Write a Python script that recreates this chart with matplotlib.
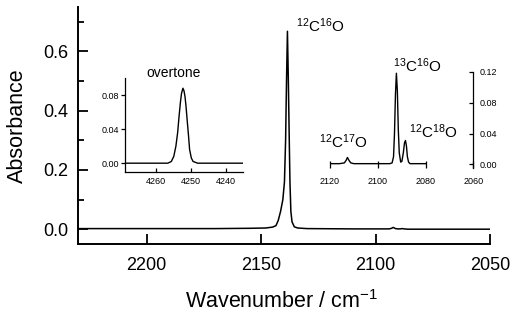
import matplotlib
matplotlib.use("Agg")
import matplotlib.pyplot as plt

plt.rcParams["font.family"] = ["Liberation Sans", "DejaVu Sans"]
plt.rcParams["mathtext.fontset"] = "custom"
plt.rcParams["mathtext.rm"] = "Liberation Sans"

# main spectrum (fundamental region)
main_wn = [2230, 2200, 2170, 2155, 2148, 2145, 2143.5, 2142.5, 2141.5, 2140.5,
           2139.8, 2139.3, 2138.9, 2138.5, 2138.1, 2137.7, 2137.4, 2137.0,
           2136.5, 2135.5, 2134, 2130, 2110, 2094, 2093, 2092.3, 2091.3,
           2090.3, 2089.2, 2088.4, 2087.5, 2086, 2070, 2050]
main_abs = [0.002, 0.002, 0.002, 0.003, 0.004, 0.007, 0.012, 0.030, 0.060, 0.100,
            0.160, 0.300, 0.500, 0.668, 0.500, 0.300, 0.160, 0.060,
            0.025, 0.008, 0.004, 0.002, 0.001, 0.001, 0.003, 0.006, 0.002,
            0.001, 0.001, 0.002, 0.001, 0.000, 0.000, 0.000]

# overtone inset
ot_wn = [4268.7, 4260, 4256.5, 4255.5, 4254.8, 4254.2, 4253.7, 4253.3, 4252.9,
         4252.6, 4252.2, 4251.9, 4251.6, 4251.3, 4251.0, 4250.6, 4250.3,
         4249.8, 4249.3, 4248, 4235]
ot_abs = [0.000, 0.000, 0.000, 0.002, 0.008, 0.020, 0.036, 0.055, 0.072,
          0.082, 0.088, 0.085, 0.078, 0.066, 0.051, 0.032, 0.016,
          0.006, 0.002, 0.000, 0.000]

# isotopologue inset
iso_wn = [2120, 2116, 2114, 2113.3, 2112.7, 2112.0, 2111.3, 2110, 2095, 2094,
          2093.4, 2093.0, 2092.6, 2092.2, 2091.8, 2091.4, 2091.0, 2090.4,
          2089.9, 2089.3, 2088.8, 2088.4, 2088.0, 2087.6, 2087.1, 2086.5, 2080]
iso_abs = [0.001, 0.001, 0.002, 0.005, 0.009, 0.005, 0.002, 0.001, 0.001, 0.002,
           0.010, 0.040, 0.090, 0.118, 0.095, 0.045, 0.015, 0.003,
           0.004, 0.015, 0.028, 0.031, 0.024, 0.010, 0.003, 0.001, 0.001]

main_xticks = [2200, 2150, 2100, 2050]
main_yticks = [0.0, 0.2, 0.4, 0.6]
ot_xticks = [4260, 4250, 4240]
ot_yticks = [0.00, 0.04, 0.08]
iso_xticks = [2120, 2100, 2080, 2060]
iso_yticks = [0.00, 0.04, 0.08, 0.12]

W, H = 520, 316
fig = plt.figure(figsize=(W / 100, H / 100), dpi=100)


def px_axes(left, top, right, bottom):
    return fig.add_axes([left / W, 1 - bottom / H, (right - left) / W, (bottom - top) / H])


# main axes
ax = px_axes(78, 7, 490, 244)
ax.plot(main_wn, main_abs, color="black", lw=1.1)
ax.set_xlim(2230, 2050)
ax.set_ylim(-0.05, 0.75)
ax.set_xticks(main_xticks)
ax.set_xticks(range(2220, 2050, 10), minor=True)
ax.set_yticks(main_yticks)
ax.set_yticks([0.1, 0.3, 0.5, 0.7], minor=True)
ax.set_yticklabels([f"{v:.1f}" for v in main_yticks])
for s in ("top", "right"):
    ax.spines[s].set_visible(False)
for s in ("left", "bottom"):
    ax.spines[s].set_linewidth(1.4)
ax.tick_params(which="both", direction="in", width=1.3, labelsize=13)
ax.tick_params(which="major", length=7)
ax.tick_params(which="minor", length=4)
ax.tick_params(axis="x", pad=9)
ax.tick_params(axis="y", pad=7)
ax.set_xlabel(r"Wavenumber / cm$^{\mathregular{-1}}$", fontsize=15.5)
ax.xaxis.label.set_va("baseline")
ax.xaxis.set_label_coords(0.494, -0.271)
ax.set_ylabel("Absorbance", fontsize=15.5)
ax.yaxis.label.set_va("center")
ax.yaxis.set_label_coords(-0.146, 0.5)

# overtone inset
ax1 = px_axes(125, 78, 243.3, 171.7)
ax1.plot(ot_wn, ot_abs, color="black", lw=1.0)
ax1.set_xlim(4268.7, 4235)
ax1.set_ylim(-0.01, 0.10)
ax1.set_xticks(ot_xticks)
ax1.set_yticks(ot_yticks)
ax1.set_yticklabels([f"{v:.2f}" for v in ot_yticks])
for s in ("top", "right"):
    ax1.spines[s].set_visible(False)
for s in ("left", "bottom"):
    ax1.spines[s].set_linewidth(0.9)
ax1.tick_params(labelsize=6.5, width=0.9, length=3)
ax1.tick_params(axis="x", direction="in", pad=4)
ax1.tick_params(axis="y", direction="out", pad=1)
ax1.patch.set_alpha(0)

# isotopologue inset
ax2 = px_axes(330, 71.7, 473.3, 168.3)
ax2.plot(iso_wn, iso_abs, color="black", lw=1.0)
ax2.set_xlim(2120, 2060)
ax2.set_ylim(-0.005, 0.12)
ax2.set_xticks(iso_xticks)
ax2.set_yticks(iso_yticks)
ax2.set_yticklabels([f"{v:.2f}" for v in iso_yticks])
for s in ("top", "left", "bottom"):
    ax2.spines[s].set_visible(False)
ax2.spines["right"].set_linewidth(0.9)
ax2.yaxis.tick_right()
ax2.tick_params(labelsize=6.5, width=0.9, direction="in")
ax2.tick_params(axis="x", length=5, pad=6)
ax2.tick_params(axis="y", length=3, pad=4.5)
ax2.patch.set_alpha(0)

# labels
def label(x, y, s, size=11, ha="left"):
    fig.text(x / W, 1 - y / H, s, fontsize=size, ha=ha, va="baseline")


label(296, 32, r"$\mathregular{^{12}C^{16}O}$")
label(393.3, 72.3, r"$\mathregular{^{13}C^{16}O}$")
label(409.3, 138.3, r"$\mathregular{^{12}C^{18}O}$")
label(319.3, 148.3, r"$\mathregular{^{12}C^{17}O}$")
label(174, 77, "overtone", size=10, ha="center")

fig.savefig("out.png", dpi=100)
